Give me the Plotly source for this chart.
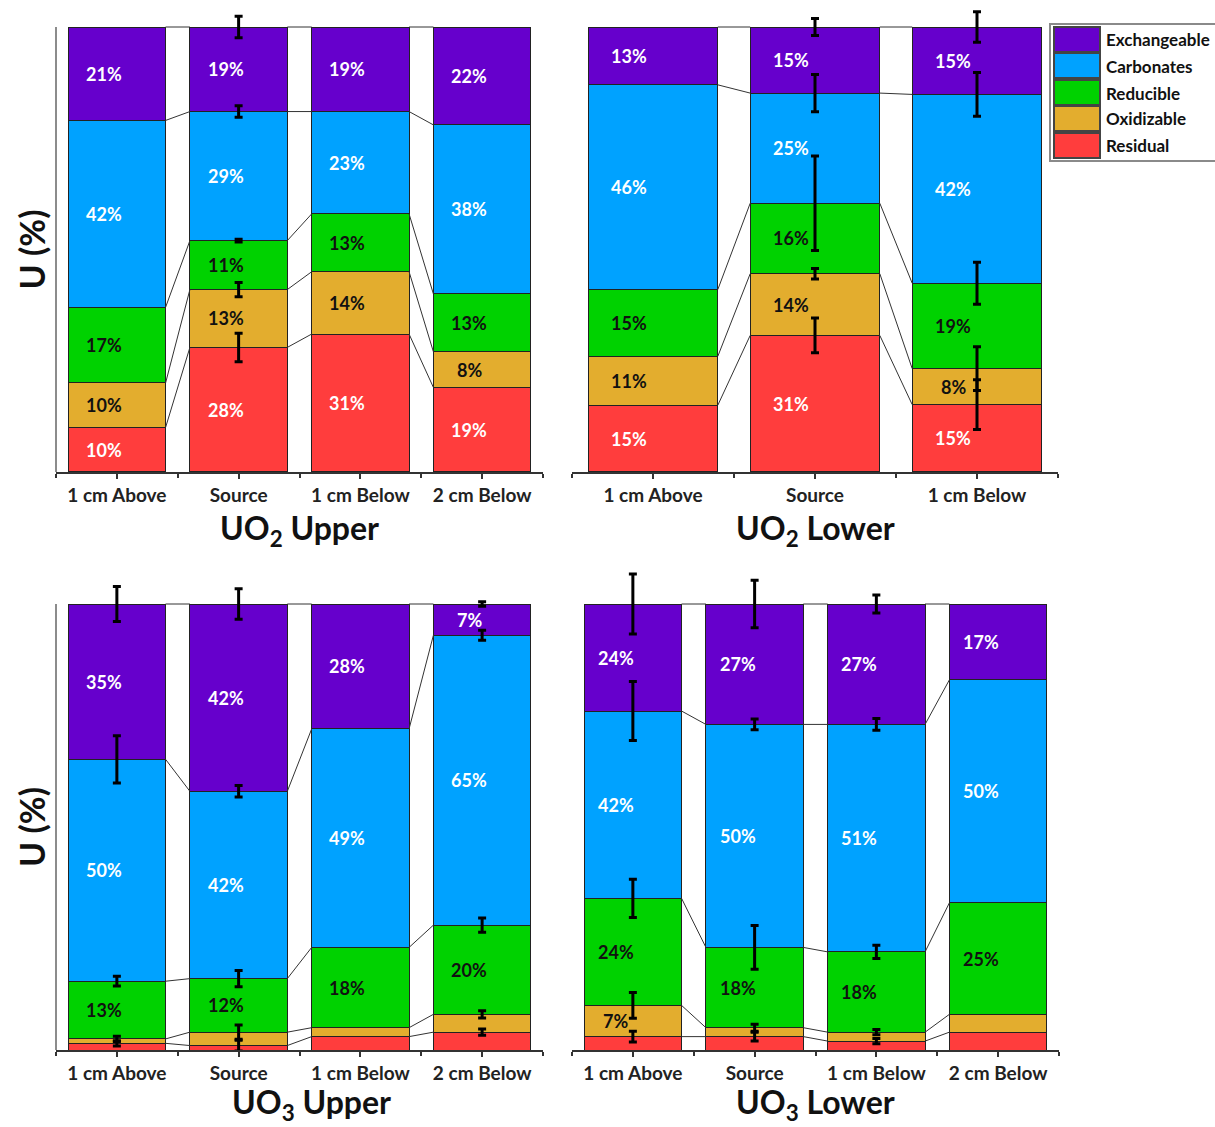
import plotly.graph_objects as go

W, H = 1215, 1127

FRACTIONS = ["Exchangeable", "Carbonates", "Reducible", "Oxidizable", "Residual"]
FILL = ["#6600CC", "#00A2FF", "#00D200", "#E3AD2E", "#FF3D3D"]
LABEL_INK = ["#FFFFFF", "#FFFFFF", "#111111", "#111111", "#FFFFFF"]

SITES_4 = ["1 cm Above", "Source", "1 cm Below", "2 cm Below"]
SITES_3 = ["1 cm Above", "Source", "1 cm Below"]

# U fractions (%), one row per fraction in FRACTIONS order, one column per site
UO2_UPPER = [
    [21, 19, 19, 22],
    [42, 29, 23, 38],
    [17, 11, 13, 13],
    [10, 13, 14, 8],
    [10, 28, 31, 19],
]
UO2_UPPER_SD = [
    [0, 2.4, 0, 0],
    [0, 1.3, 0, 0],
    [0, 0.3, 0, 0],
    [0, 1.6, 0, 0],
    [0, 3.2, 0, 0],
]

UO2_LOWER = [
    [13, 15, 15],
    [46, 25, 42],
    [15, 16, 19],
    [11, 14, 8],
    [15, 31, 15],
]
UO2_LOWER_SD = [
    [0, 1.9, 3.4],
    [0, 4.2, 4.9],
    [0, 10.6, 4.7],
    [0, 1.2, 4.9],
    [0, 3.9, 5.6],
]

UO3_UPPER = [
    [35, 42, 28, 7],
    [50, 42, 49, 65],
    [13, 12, 18, 20],
    [1, 3, 2, 4],
    [1.5, 1, 3, 4],
]
UO3_UPPER_SD = [
    [3.9, 3.4, 0, 0.5],
    [5.3, 1.3, 0, 1.1],
    [1.1, 1.8, 0, 1.6],
    [0.6, 1.6, 0, 0.8],
    [0.6, 1.2, 0, 0.7],
]

UO3_LOWER = [
    [24, 27, 27, 17],
    [42, 50, 51, 50],
    [24, 18, 18, 25],
    [7, 2, 2, 4],
    [3, 3, 2, 4],
]
UO3_LOWER_SD = [
    [6.7, 5.3, 2.0, 0],
    [6.6, 1.2, 1.3, 0],
    [4.3, 4.9, 1.5, 0],
    [2.9, 0.8, 0.6, 0],
    [1.2, 1.0, 0.6, 0],
]

# title, sites, values, sd, pixel box (left, right, baseline, 100% line),
# y-range top, label x-shift, title x-shift, title y-shift, draw left rule
PANELS = [
    ("UO<sub>2</sub> Upper", SITES_4, UO2_UPPER, UO2_UPPER_SD, (56, 543, 472, 27), 104, -13, 0, -58, True),
    ("UO<sub>2</sub> Lower", SITES_3, UO2_LOWER, UO2_LOWER_SD, (572, 1058, 472, 27), 104, -24, 0, -58, False),
    ("UO<sub>3</sub> Upper", SITES_4, UO3_UPPER, UO3_UPPER_SD, (56, 543, 1050, 604), 108, -13, 12, -54, True),
    ("UO<sub>3</sub> Lower", SITES_4, UO3_LOWER, UO3_LOWER_SD, (572, 1059, 1050, 604), 108, -17, 0, -54, False),
]

FONT = "Lato"
BAR_W = 0.8


def fx(px):
    return px / W


def fy(px):
    return 1 - px / H


fig = go.Figure()
layout = {}
annotations = []
shapes = []

for n, (title, sites, values, sd, box, ytop, lshift, tshift, tyshift, left_rule) in enumerate(PANELS, start=1):
    xa = "x" if n == 1 else f"x{n}"
    ya = "y" if n == 1 else f"y{n}"
    left, right, base, top100 = box
    px_per_unit = (base - top100) / 100.0
    top_px = top100 - (ytop - 100) * px_per_unit
    ns = len(sites)
    xs = list(range(ns))

    layout["xaxis" if n == 1 else f"xaxis{n}"] = dict(
        domain=[fx(left), fx(right)], anchor=ya, range=[-0.5, ns - 0.5],
        tickmode="array", tickvals=xs, ticktext=sites,
        ticks="outside", ticklen=5, tickwidth=2, tickcolor="#333333",
        showline=True, linecolor="#333333", linewidth=2,
        showgrid=False, zeroline=False,
        tickfont=dict(family=FONT, size=19, color="#222222", weight="bold"),
        minor=dict(tickmode="array", tickvals=[i + 0.5 for i in range(-1, ns)],
                   ticks="outside", ticklen=4, tickwidth=2, tickcolor="#333333"),
    )
    layout["yaxis" if n == 1 else f"yaxis{n}"] = dict(
        domain=[fy(base), fy(top_px)], anchor=xa, range=[0, ytop],
        showticklabels=False, ticks="", showgrid=False, zeroline=False, showline=False,
    )

    # stacked bars, residual at the bottom
    for f in reversed(range(len(FRACTIONS))):
        fig.add_trace(go.Bar(
            x=xs, y=values[f], xaxis=xa, yaxis=ya, width=BAR_W,
            name=FRACTIONS[f], showlegend=False,
            marker=dict(color=FILL[f], line=dict(color="#222222", width=1)),
        ))

    # normalised segment tops (percent of each bar)
    totals = [sum(values[f][i] for f in range(len(FRACTIONS))) for i in xs]
    tops = [[100.0 * sum(values[g][i] for g in range(f, len(FRACTIONS))) / totals[i] for i in xs]
            for f in range(len(FRACTIONS))]
    bottoms = [tops[f + 1] if f + 1 < len(FRACTIONS) else [0.0] * ns for f in range(len(FRACTIONS))]

    # connector lines between neighbouring bars
    cx, cy = [], []
    for f in range(len(FRACTIONS)):
        for i in range(ns - 1):
            cx += [i + BAR_W / 2, i + 1 - BAR_W / 2, None]
            cy += [tops[f][i], tops[f][i + 1], None]
    fig.add_trace(go.Scatter(
        x=cx, y=cy, xaxis=xa, yaxis=ya, mode="lines", showlegend=False,
        line=dict(color="#333333", width=1), hoverinfo="skip",
    ))

    # error bars at the top of each segment
    for f in range(len(FRACTIONS)):
        ex = [i for i in xs if sd[f][i] > 0]
        if not ex:
            continue
        fig.add_trace(go.Scatter(
            x=ex, y=[tops[f][i] for i in ex], xaxis=xa, yaxis=ya,
            mode="markers", marker=dict(size=1, color="black"), showlegend=False,
            error_y=dict(type="data", array=[sd[f][i] for i in ex], symmetric=True,
                         color="black", thickness=3, width=4),
        ))

    # segment value labels
    for f in range(len(FRACTIONS)):
        for i in xs:
            v = values[f][i]
            if v < 5:
                continue
            annotations.append(dict(
                x=i, y=(tops[f][i] + bottoms[f][i]) / 2, xref=xa, yref=ya,
                text=f"<b>{v:g}%</b>", showarrow=False, xshift=lshift,
                font=dict(family=FONT, size=18, color=LABEL_INK[f]),
            ))

    # panel title below the axis
    annotations.append(dict(
        x=0.5, y=0, xref=f"{xa} domain", yref=ya, xanchor="center", yanchor="middle",
        text=f"<b>{title}</b>", showarrow=False, yshift=tyshift, xshift=tshift,
        font=dict(family=FONT, size=32, color="#111111"),
    ))

    if left_rule:
        shapes.append(dict(
            type="line", xref=f"{xa} domain", yref=ya, x0=0, x1=0, y0=0, y1=100,
            line=dict(color="#8c8c8c", width=2),
        ))
        annotations.append(dict(
            x=0, y=50, xref=f"{xa} domain", yref=ya, xshift=-25,
            xanchor="center", yanchor="middle",
            text="<b>U (%)</b>", showarrow=False, textangle=-90,
            font=dict(family=FONT, size=34, color="#111111"),
        ))

# legend box
shapes.append(dict(type="rect", xref="paper", yref="paper",
                   x0=fx(1050), x1=fx(1222), y0=fy(161), y1=fy(24),
                   line=dict(color="#8a8a8a", width=2), fillcolor="white", layer="above"))
row_tops = [27, 53, 80, 106, 133]
for f, rt in enumerate(row_tops):
    shapes.append(dict(type="rect", xref="paper", yref="paper",
                       x0=fx(1054), x1=fx(1100), y0=fy(rt + 25), y1=fy(rt),
                       line=dict(color="#444444", width=2), fillcolor=FILL[f], layer="above"))
    annotations.append(dict(
        x=fx(1104), y=fy(rt + 13), xref="paper", yref="paper", xanchor="left", yanchor="middle",
        text=f"<b>{FRACTIONS[f]}</b>", showarrow=False,
        font=dict(family=FONT, size=17, color="#111111"),
    ))

fig.update_layout(
    width=W, height=H, margin=dict(l=0, r=0, t=0, b=0),
    paper_bgcolor="white", plot_bgcolor="white",
    barmode="stack", barnorm="percent",
    font=dict(family=FONT),
    annotations=annotations, shapes=shapes, showlegend=False,
    **layout,
)

fig.write_html("out.html")
